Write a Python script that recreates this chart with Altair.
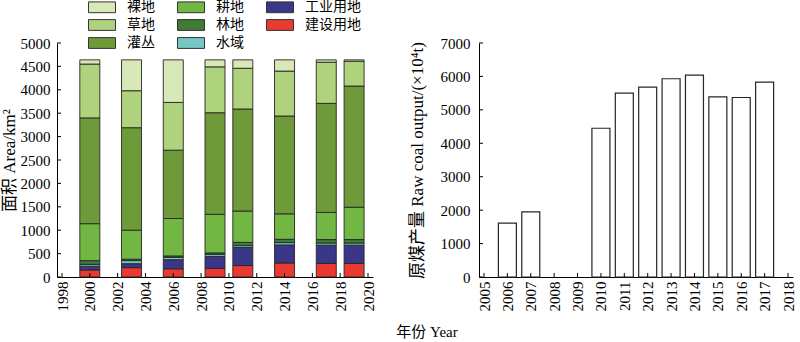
import altair as alt
import pandas as pd

# ---------------- data ----------------
lu_years = [2000, 2003, 2006, 2009, 2011, 2014, 2017, 2019]
# land-use classes, bottom -> top of stack
classes = ["建设用地", "工业用地", "水域", "林地", "耕地", "灌丛", "草地", "裸地"]
jianshe = [150, 200, 175, 185, 245, 300, 290, 290]
gongye = [80, 85, 195, 255, 385, 385, 390, 390]
shuiyu = [40, 65, 50, 45, 40, 50, 45, 45]
lindi = [80, 30, 30, 30, 70, 70, 75, 75]
gengdi = [790, 620, 800, 825, 670, 545, 580, 690]
guancong = [2260, 2190, 1460, 2170, 2180, 2090, 2330, 2590]
caodi = [1150, 790, 1020, 980, 870, 960, 880, 530]
luodi = [90, 660, 910, 150, 180, 240, 50, 30]

coal_years = [2006, 2007, 2010, 2011, 2012, 2013, 2014, 2015, 2016, 2017]
coal_output = [1610, 1950, 4450, 5500, 5680, 5930, 6040, 5390, 5370, 5830]

left_x_ticks = list(range(1998, 2021, 2))
left_y_ticks = list(range(0, 5001, 500))
right_x_ticks = list(range(2005, 2019))
right_y_ticks = list(range(0, 7001, 1000))

legend_order = ["裸地", "草地", "灌丛", "耕地", "林地", "水域", "工业用地", "建设用地"]
color_map = {
    "裸地": "#d8e8b6",
    "草地": "#afd27c",
    "灌丛": "#6e9a3a",
    "耕地": "#72b743",
    "林地": "#3f7a36",
    "水域": "#74c7c4",
    "工业用地": "#3a3789",
    "建设用地": "#e83a30",
}

series = [jianshe, gongye, shuiyu, lindi, gengdi, guancong, caodi, luodi]
rows = []
for ci, (cls, vals) in enumerate(zip(classes, series)):
    for y, v in zip(lu_years, vals):
        rows.append({"year": y, "cls": cls, "area": v, "ord": ci})
lu_df = pd.DataFrame(rows)
coal_df = pd.DataFrame({"year": coal_years, "output": coal_output})

FONT = "Liberation Serif, Noto Sans CJK SC"
LW, LH = 316, 234
RW, RH = 314, 234

# ---------------- left chart ----------------
lx = alt.Scale(domain=[1998, 2020], nice=False, zero=False)
ly = alt.Scale(domain=[0, 5000], nice=False)
lx_axis = alt.Axis(values=left_x_ticks, format="d", labelAngle=270, labelPadding=4,
                   labelOverlap=False)
ly_axis = alt.Axis(values=left_y_ticks, format="d", titlePadding=2, labelPadding=7,
                   labelOverlap=False)
LTITLE = "面积 Area/km²"

bars = alt.Chart(lu_df).mark_bar(size=20, stroke="#262626", strokeWidth=0.9).encode(
    x=alt.X("year:Q", scale=lx, title=None, axis=lx_axis),
    y=alt.Y("area:Q", stack="zero", scale=ly, title=LTITLE, axis=ly_axis),
    color=alt.Color("cls:N",
                    scale=alt.Scale(domain=legend_order,
                                    range=[color_map[c] for c in legend_order]),
                    legend=alt.Legend(title=None, orient="none", legendX=38, legendY=-43,
                                      columns=3, columnPadding=-8, rowPadding=2,
                                      gridAlign="all",
                                      symbolType="M-4,-1.6H4V1.6H-4Z", symbolSize=45.6,
                                      symbolStrokeColor="#333333", symbolStrokeWidth=1,
                                      symbolOpacity=1, labelOffset=18,
                                      labelFont=FONT, labelFontSize=14,
                                      labelColor="#000000", padding=0)),
    order=alt.Order("ord:Q", sort="ascending"),
)

lxt = alt.Chart(pd.DataFrame({"year": left_x_ticks})).mark_rule(color="#000", strokeWidth=1).encode(
    x=alt.X("year:Q", scale=lx, title=None, axis=lx_axis),
    y=alt.value(LH), y2=alt.value(LH - 4))
lyt = alt.Chart(pd.DataFrame({"area": left_y_ticks})).mark_rule(color="#000", strokeWidth=1).encode(
    y=alt.Y("area:Q", scale=ly, title=LTITLE, axis=ly_axis),
    x=alt.value(0), x2=alt.value(4))

left = alt.layer(bars, lxt, lyt).properties(width=LW, height=LH)

# ---------------- right chart ----------------
rx = alt.Scale(domain=[2005, 2018], nice=False, zero=False)
ry = alt.Scale(domain=[0, 7000], nice=False)
rx_axis = alt.Axis(values=right_x_ticks, format="d", labelAngle=270, labelPadding=4,
                   labelOverlap=False)
ry_axis = alt.Axis(values=right_y_ticks, format="d", titlePadding=14, labelPadding=9,
                   labelOverlap=False)
RTITLE = "原煤产量 Raw coal output/(×10⁴t)"

cbars = alt.Chart(coal_df).mark_bar(size=18, fill="white", stroke="#262626", strokeWidth=1.2).encode(
    x=alt.X("year:Q", scale=rx, title=None, axis=rx_axis),
    y=alt.Y("output:Q", scale=ry, title=RTITLE, axis=ry_axis),
)
rxt = alt.Chart(pd.DataFrame({"year": right_x_ticks})).mark_rule(color="#000", strokeWidth=1).encode(
    x=alt.X("year:Q", scale=rx, title=None, axis=rx_axis),
    y=alt.value(RH), y2=alt.value(RH - 4))
ryt = alt.Chart(pd.DataFrame({"output": right_y_ticks})).mark_rule(color="#000", strokeWidth=1).encode(
    y=alt.Y("output:Q", scale=ry, title=RTITLE, axis=ry_axis),
    x=alt.value(0), x2=alt.value(4))

right = alt.layer(cbars, rxt, ryt).properties(width=RW, height=RH)

chart = alt.hconcat(left, right, spacing=106, bounds="flush").properties(
    title=alt.TitleParams("年份 Year", orient="bottom", anchor="middle",
                          font=FONT, fontSize=15, fontWeight="normal",
                          color="#000000", offset=14, dx=29),
    padding={"left": 0, "top": 0, "right": 0, "bottom": 0},
    background="white",
).configure_axis(
    grid=False, ticks=False, tickSize=0, domainColor="#000000", domainWidth=1,
    labelFont=FONT, labelFontSize=15, labelColor="#000000",
    titleFont=FONT, titleFontSize=17, titleFontWeight="normal", titleColor="#000000",
).configure_view(stroke=None)

chart.save("out.html", embed_options={"renderer": "svg", "actions": False})
